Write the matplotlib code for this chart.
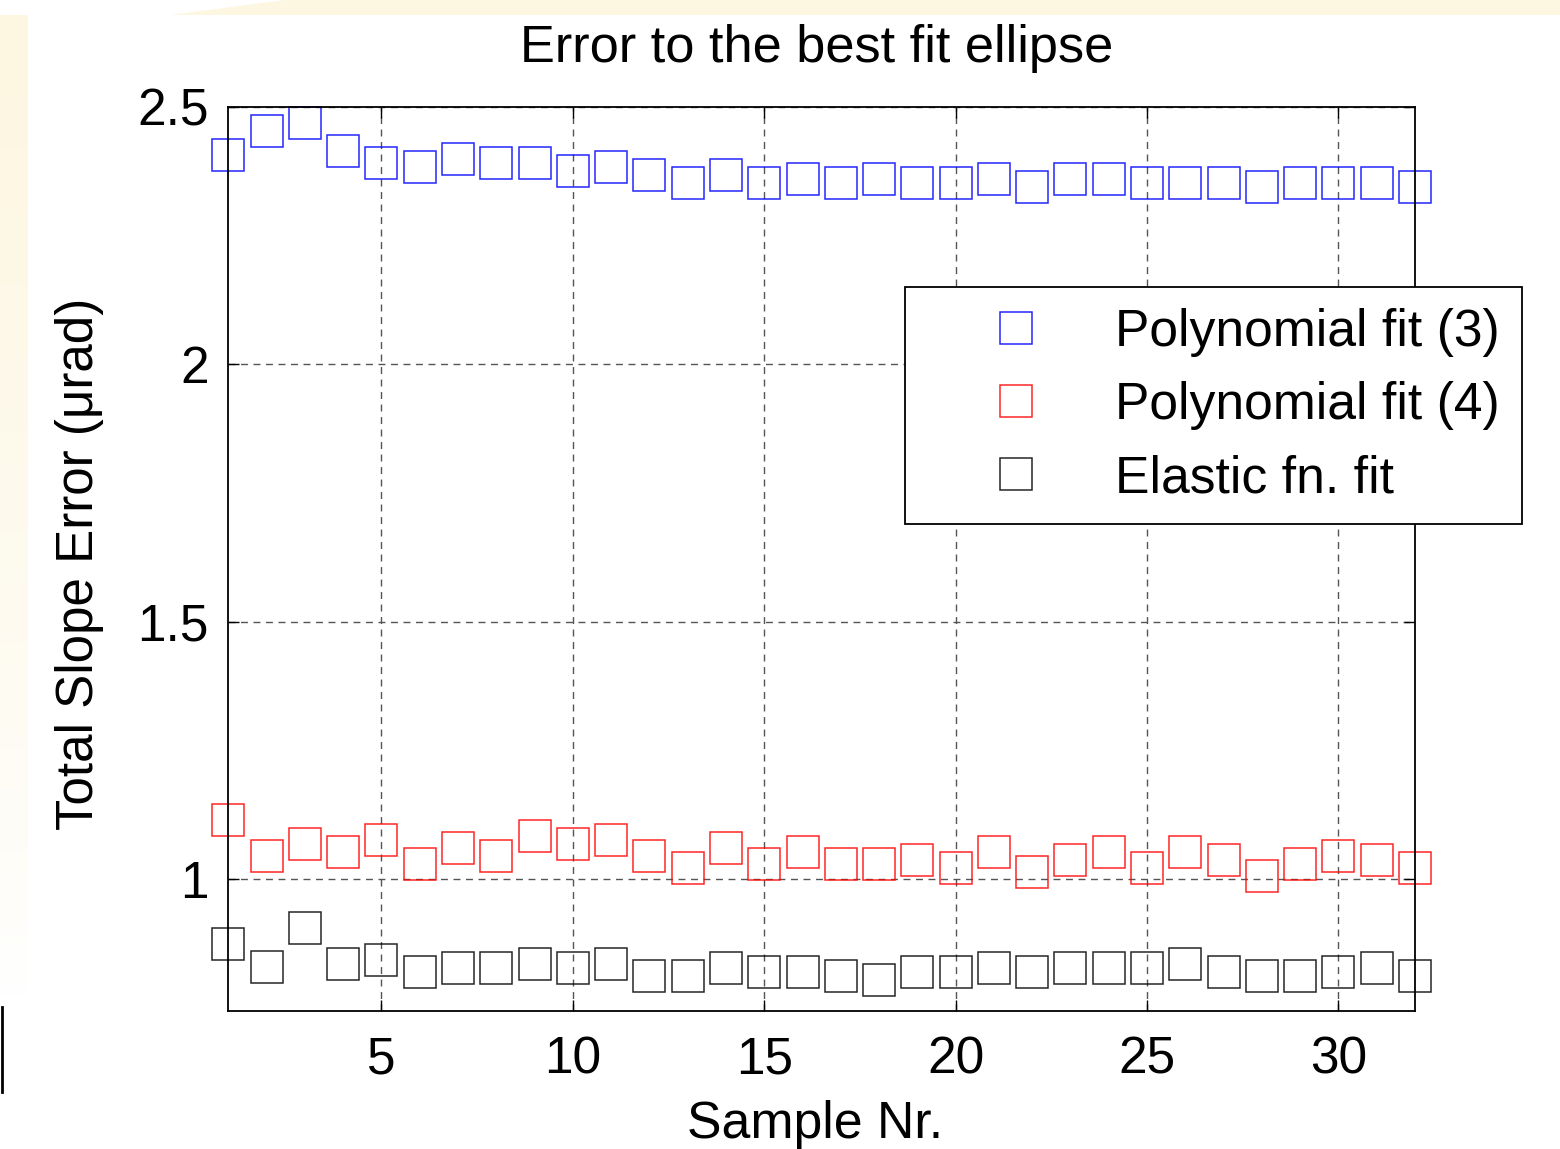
import numpy as np
import matplotlib
matplotlib.use("Agg")
import matplotlib.pyplot as plt
from matplotlib.patches import Polygon
from matplotlib.lines import Line2D

plt.rcParams['font.family'] = ['Liberation Sans', 'DejaVu Sans']

samples = list(range(1, 33))
poly3 = [2.407, 2.453, 2.468, 2.414, 2.391, 2.383, 2.399, 2.391, 2.391, 2.376,
         2.383, 2.368, 2.352, 2.368, 2.352, 2.360, 2.352, 2.360, 2.352, 2.352,
         2.360, 2.345, 2.360, 2.360, 2.352, 2.352, 2.352, 2.345, 2.352, 2.352,
         2.352, 2.345]
poly4 = [1.115, 1.046, 1.069, 1.053, 1.076, 1.030, 1.061, 1.045, 1.084, 1.069,
         1.076, 1.045, 1.022, 1.061, 1.030, 1.053, 1.030, 1.030, 1.038, 1.022,
         1.053, 1.014, 1.038, 1.053, 1.022, 1.053, 1.038, 1.006, 1.030, 1.045,
         1.038, 1.022]
elastic = [0.875, 0.829, 0.906, 0.836, 0.844, 0.820, 0.828, 0.828, 0.836, 0.828,
           0.836, 0.813, 0.813, 0.828, 0.820, 0.820, 0.813, 0.805, 0.820, 0.820,
           0.828, 0.820, 0.828, 0.828, 0.828, 0.836, 0.820, 0.813, 0.813, 0.820,
           0.828, 0.813]
labels = ['Polynomial fit (3)', 'Polynomial fit (4)', 'Elastic fn. fit']
colors = ['#0000ff', '#ff0000', '#000000']
xticks = [5, 10, 15, 20, 25, 30]
yticks = [1, 1.5, 2, 2.5]
yticklabels = ['1', '1.5', '2', '2.5']

W, H = 1560, 1149
fig = plt.figure(figsize=(W / 100, H / 100), dpi=100)
fig.patch.set_facecolor('white')

cream = '#fdf6e0'
# slide background decorations
fig.add_artist(Polygon([(170 / W, 1 - 15 / H), (285 / W, 1.0), (1.0, 1.0), (1.0, 1 - 15 / H)],
                       closed=True, transform=fig.transFigure, facecolor=cream,
                       edgecolor='none', zorder=0))
gax = fig.add_axes([0, 1 - 1000 / H, 28 / W, (1000 - 15) / H], zorder=-1)
grad = np.linspace(1, 0, 256).reshape(-1, 1)
c0 = np.array([0xfd, 0xf6, 0xe0]) / 255.0
img = np.ones((256, 1, 3)) - (1 - c0)[None, None, :] * grad[:, :, None] ** 0.8
gax.imshow(img, aspect='auto', extent=[0, 1, 0, 1])
gax.axis('off')
fig.add_artist(Line2D([2 / W, 2 / W], [1 - 1007 / H, 1 - 1092 / H], transform=fig.transFigure,
                      color='black', lw=2))

ax = fig.add_axes([228.3 / W, 1 - 1010.7 / H, (1415 - 228.3) / W, (1010.7 - 107) / H])
for ys, c, lab in zip([poly3, poly4, elastic], colors, labels):
    ax.plot(samples, ys, linestyle='none', marker='s', markersize=23,
            markerfacecolor='none', markeredgecolor=c, markeredgewidth=1.1,
            label=lab, clip_on=False, alpha=0.85)

ax.set_xlim(1, 32)
ax.set_ylim(0.745, 2.5)
ax.set_xticks(xticks)
ax.set_yticks(yticks)
ax.set_yticklabels(yticklabels)
ax.tick_params(direction='in', length=8, width=1, top=True, right=True,
               labelsize=37, pad=14)
ax.tick_params(axis='x', pad=18)
ax.grid(True, color='#555555', linestyle=(0, (5, 4)), linewidth=1)
for s in ax.spines.values():
    s.set_linewidth(1.3)
    s.set_color('black')

fig.text(817 / W, 1 - 62 / H, 'Error to the best fit ellipse', ha='center',
         va='baseline', fontsize=37.7)
fig.text(815 / W, 1 - 1138 / H, 'Sample Nr.', ha='center', va='baseline', fontsize=37.3)
fig.text(80 / W, 1 - 564 / H, 'Total Slope Error (\u03bcrad)', ha='center', va='center',
         rotation=90, fontsize=36.8)

leg = ax.legend(loc='upper left', bbox_to_anchor=(905 / W, 1 - 287 / H - 0.01, 617 / W, 0.01),
                bbox_transform=fig.transFigure, mode='expand', borderaxespad=0,
                fontsize=37.2, frameon=True, fancybox=False, shadow=False,
                borderpad=0.4, handlelength=3.49, handletextpad=0.17,
                labelspacing=0.47, numpoints=1)
leg.get_frame().set_edgecolor('black')
leg.get_frame().set_linewidth(1.3)
leg.get_frame().set_alpha(1)

fig.savefig('out.png', dpi=100, facecolor='white')
